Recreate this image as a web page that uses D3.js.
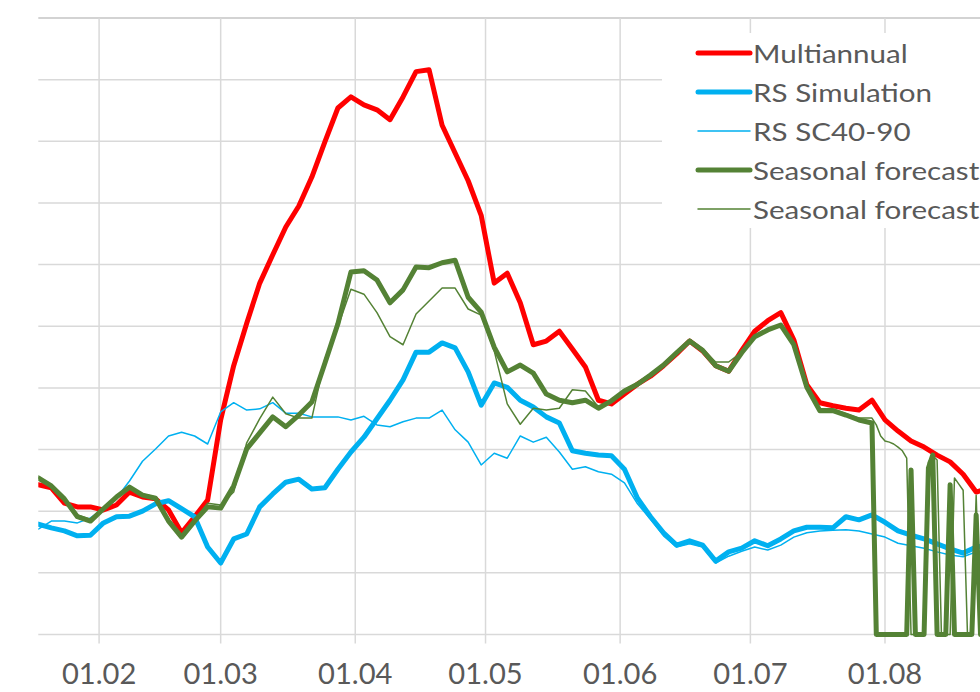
<!DOCTYPE html>
<html>
<head>
<meta charset="utf-8">
<title>Multiannual vs RS vs Seasonal forecast</title>
<script src="https://cdn.jsdelivr.net/npm/d3@7"></script>
<style>
  body { margin: 0; background: #fff; }
  svg { display: block; font-family: Lato, "Open Sans", sans-serif; }
</style>
</head>
<body>
<svg id="chart" width="980" height="692"></svg>
<script>
// every third day, 18 Jan .. 25 Aug (dd.mm)
var dates = ["18.01","21.01","24.01","27.01","30.01","02.02","05.02","08.02","11.02","14.02",
  "17.02","20.02","23.02","26.02","01.03","04.03","07.03","10.03","13.03","16.03",
  "19.03","22.03","25.03","28.03","31.03","03.04","06.04","09.04","12.04","15.04",
  "18.04","21.04","24.04","27.04","30.04","03.05","06.05","09.05","12.05","15.05",
  "18.05","21.05","24.05","27.05","30.05","02.06","05.06","08.06","11.06","14.06",
  "17.06","20.06","23.06","26.06","29.06","02.07","05.07","08.07","11.07","14.07",
  "17.07","20.07","23.07","26.07","29.07","01.08","04.08","07.08","10.08","13.08",
  "16.08","19.08","22.08","25.08"];

var multiannual = [24.3, 23.8, 21.3, 20.7, 20.7, 20.2, 21.0, 23.1, 22.3, 22.0,
  20.2, 16.5, 19.1, 21.8, 34.8, 43.6, 50.5, 57.0, 61.6, 66.1,
  69.5, 74.2, 79.9, 85.4, 87.2, 85.9, 85.1, 83.5, 87.2, 91.3,
  91.6, 82.6, 78.1, 73.6, 68.0, 57.0, 58.6, 53.8, 47.0, 47.6,
  49.2, 46.3, 43.4, 38.0, 37.4, 39.0, 40.6, 41.9, 43.6, 45.5,
  47.6, 46.0, 43.6, 42.7, 46.1, 49.2, 50.9, 52.2, 47.8, 40.5,
  37.6, 37.1, 36.7, 36.4, 38.0, 34.8, 33.0, 31.4, 30.4, 29.1,
  28.0, 26.0, 23.1, 23.8];

var rsSimulation = [17.9, 17.3, 16.8, 16.0, 16.1, 18.1, 19.1, 19.2, 20.0, 21.2,
  21.7, 20.4, 19.1, 14.2, 11.6, 15.5, 16.3, 20.7, 22.8, 24.7,
  25.2, 23.6, 23.8, 26.8, 29.6, 32.0, 35.0, 38.0, 41.3, 45.8,
  45.8, 47.3, 46.5, 42.6, 37.2, 40.8, 40.1, 38.0, 36.9, 35.3,
  34.3, 29.8, 29.4, 29.1, 29.0, 26.8, 22.1, 19.1, 16.5, 14.5,
  15.2, 14.5, 11.9, 13.4, 14.0, 15.2, 14.4, 15.5, 16.8, 17.4,
  17.4, 17.3, 19.1, 18.6, 19.4, 18.2, 16.8, 16.1, 15.5, 14.7,
  13.9, 13.2, 14.2, 14.4];

var rsSc4090 = [17.1, 18.4, 18.4, 18.1, 18.9, 20.4, 22.1, 24.9, 28.1, 30.1,
  32.2, 32.8, 32.2, 30.9, 36.1, 37.6, 36.4, 36.6, 37.6, 35.9,
  35.9, 35.3, 35.3, 35.3, 34.8, 35.4, 34.0, 33.7, 34.5, 35.1,
  35.1, 36.4, 33.2, 31.2, 27.5, 29.4, 28.6, 32.2, 31.2, 32.0,
  29.6, 26.8, 27.2, 26.4, 26.0, 24.6, 21.2, 18.7, 16.0, 14.2,
  14.7, 14.2, 11.6, 12.7, 13.5, 14.2, 13.7, 14.5, 15.8, 16.5,
  16.8, 16.9, 17.0, 16.8, 16.3, 15.8, 14.8, 14.4, 14.0, 13.4,
  12.9, 12.6, 13.4, 13.7];

// seasonal forecast: same 3-day dates up to 29.07, then daily
var forecast = [25.4, 24.1, 22.0, 19.1, 18.4, 20.4, 22.3, 23.9, 22.6, 22.1,
  18.4, 15.8, 18.4, 20.7, 20.5, 24.1, 30.1, 32.7, 35.3, 33.7,
  35.6, 37.7, 44.0, 50.4, 58.8, 59.0, 57.5, 53.8, 55.9, 59.6,
  59.5, 60.3, 60.7, 54.7, 52.3, 46.6, 42.6, 43.7, 42.4, 39.0,
  38.0, 37.6, 38.0, 36.7, 37.9, 39.5, 40.6, 42.1, 43.7, 45.7,
  47.6, 46.1, 43.6, 42.7, 45.7, 48.3, 49.4, 50.2, 47.0, 40.1,
  36.3, 36.3, 35.6, 34.8, 34.3];

var forecastThin = [25.4, 24.3, 21.8, 19.4, 18.7, 20.5, 22.3, 23.9, 22.8, 22.3,
  18.7, 16.1, 18.6, 21.3, 21.0, 23.1, 31.1, 35.0, 38.5, 35.8,
  35.1, 35.1, 44.7, 49.9, 56.0, 55.2, 52.2, 48.3, 47.0, 52.0,
  54.1, 56.2, 56.2, 52.8, 51.8, 46.0, 37.4, 34.1, 36.7, 36.4,
  36.7, 39.7, 39.5, 36.9, 37.9, 39.7, 40.8, 42.3, 43.9, 45.8,
  47.9, 46.3, 44.2, 44.2, 45.8, 48.3, 49.4, 50.0, 47.3, 40.5,
  36.6, 36.6, 35.8, 35.1, 35.1];

var tailDates = ["30.07","31.07","01.08","02.08","03.08","04.08","05.08","06.08","07.08","08.08",
  "09.08","10.08","11.08","12.08","13.08","14.08","15.08","16.08","17.08","18.08",
  "19.08","20.08","21.08","22.08","23.08"];
var forecastTail = [0, 0, 0, 0, 0, 0, 0, 0, 26.7, 0,
  0, 0, 27.0, 29.1, 0, 0, 0, 24.3, 0, 0,
  0, 0, 0, 19.4, 0];
var forecastThinTail = [34.0, 32.2, 31.4, 31.2, 30.9, 30.4, 29.8, 28.6, 0, 0,
  0, 0, 28.0, 29.0, 28.3, 0, 0, 0, 25.4, 24.4,
  23.4, 0, 0, 22.6, 0];

var yTicks = [0, 10, 20, 30, 40, 50, 60, 70, 80, 90, 100];

var parse = function(s) { return d3.timeParse("%d.%m.%Y")(s + ".2019"); };

var svg = d3.select("#chart");
var W = 980, H = 692;

var x = d3.scaleTime()
    .domain([parse("18.01"), parse("25.08")])
    .range([38.3, 989.2]);
var y = d3.scaleLinear()
    .domain([0, 100])
    .range([634.5, 18]);

// horizontal grid
svg.append("g").selectAll("line")
    .data(yTicks)
    .enter().append("line")
    .attr("x1", 38.3).attr("x2", W)
    .attr("y1", function(d) { return y(d); })
    .attr("y2", function(d) { return y(d); })
    .attr("stroke", function(d) { return d == 100 ? "#c4c4c4" : "#d9d9d9"; })
    .attr("stroke-width", 1.5);

// vertical grid + ticks at month starts
var months = d3.timeMonth.range(parse("01.02"), parse("01.09"));
svg.append("g").selectAll("line")
    .data(months)
    .enter().append("line")
    .attr("x1", function(d) { return x(d); })
    .attr("x2", function(d) { return x(d); })
    .attr("y1", y(100)).attr("y2", y(0) + 9)
    .attr("stroke", "#d9d9d9")
    .attr("stroke-width", 1.5);

svg.append("g").selectAll("text")
    .data(months)
    .enter().append("text")
    .attr("transform", function(d) { return "translate(" + x(d) + ",684) scale(1.04,1)"; })
    .attr("text-anchor", "middle")
    .attr("fill", "#595959")
    .style("font-size", "28px")
    .text(d3.timeFormat("%d.%m"));

svg.append("clipPath").attr("id", "plot")
  .append("rect").attr("x", 38.3).attr("y", 0).attr("width", W).attr("height", H);

function pts(ds, vs) {
  return ds.map(function(d, i) { return { date: parse(d), v: vs[i] }; });
}

var line = d3.line()
    .x(function(d) { return x(d.date); })
    .y(function(d) { return y(d.v); });

var series = [
  { data: pts(dates, multiannual), color: "#ff0000", w: 5 },
  { data: pts(dates, rsSimulation), color: "#00b0f0", w: 5 },
  { data: pts(dates, rsSc4090), color: "#00b0f0", w: 1.5 },
  { data: pts(dates.slice(0, forecast.length), forecast).concat(pts(tailDates, forecastTail)), color: "#548235", w: 5 },
  { data: pts(dates.slice(0, forecastThin.length), forecastThin).concat(pts(tailDates, forecastThinTail)), color: "#548235", w: 1.5 }
];

svg.append("g").attr("clip-path", "url(#plot)")
  .selectAll("path")
  .data(series)
  .enter().append("path")
  .attr("d", function(d) { return line(d.data); })
  .attr("fill", "none")
  .attr("stroke", function(d) { return d.color; })
  .attr("stroke-width", function(d) { return d.w; })
  .attr("stroke-linejoin", "round")
  .attr("stroke-linecap", "round");

// legend
var legendNames = ["Multiannual", "RS Simulation", "RS SC40-90", "Seasonal forecast", "Seasonal forecast"];
var lg = svg.append("g");
lg.append("rect")
    .attr("x", 662).attr("y", 33)
    .attr("width", 330).attr("height", 195)
    .attr("fill", "#fff");
var rows = lg.selectAll("g.row")
    .data(series)
    .enter().append("g")
    .attr("class", "row")
    .attr("transform", function(d, i) { return "translate(0," + (53 + i * 39) + ")"; });
rows.append("line")
    .attr("x1", 698).attr("x2", 750)
    .attr("stroke", function(d) { return d.color; })
    .attr("stroke-width", function(d) { return d.w; })
    .attr("stroke-linecap", "round");
rows.append("text")
    .attr("transform", "translate(753,10) scale(1.16,1)")
    .attr("fill", "#595959")
    .style("font-size", "25.5px")
    .text(function(d, i) { return legendNames[i]; });
</script>
</body>
</html>
